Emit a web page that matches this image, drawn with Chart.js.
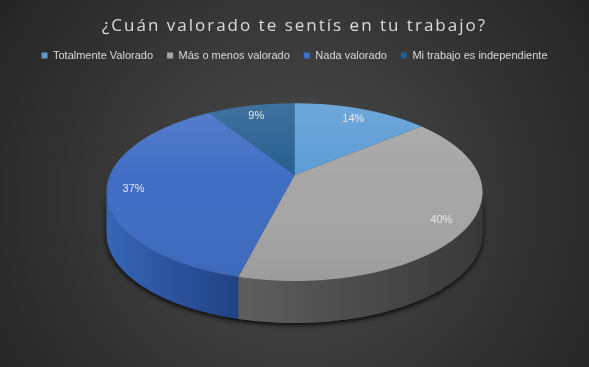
<!DOCTYPE html>
<html>
<head>
<meta charset="utf-8">
<script src="https://cdn.jsdelivr.net/npm/chart.js@4.4.1/dist/chart.umd.min.js"></script>
<style>
html, body { margin: 0; padding: 0; background: #333; }
#wrap { width: 589px; height: 367px; }
</style>
</head>
<body>
<div id="wrap"><canvas id="chart"></canvas></div>
<script>
const chartTitle = '¿Cuán valorado te sentís en tu trabajo?'
const categories = ['Totalmente Valorado', 'Más o menos valorado', 'Nada valorado', 'Mi trabajo es independiente']
const values = [14, 40, 37, 9]
const topColors = ['#5b9bd5', '#a5a5a5', '#3f6dc4', '#255e91']
const sideColors = [['#3d78b3', '#2a5a8c'], ['#5e5e5e', '#383838'], ['#3765b8', '#1f4283'], ['#1f4f7d', '#163b60']]

// look of the 3d disc
const pieRadius = 188
const tilt = 0.473
const depth = 42
const lean = 0.19   // perspective: how far the centre sits behind the middle of the ellipse
const gamma = 1 / Math.sqrt(1 - lean * lean)

function pieGeometry(chart){
    const arcs = chart.getDatasetMeta(0).data
    const a = chart.chartArea
    const rx = pieRadius
    const ry = rx * tilt
    return {
        arcs: arcs,
        R: arcs[0].outerRadius,
        cx: arcs[0].x,
        cy: arcs[0].y,
        rx: rx,
        ry: ry,
        ex: (a.left + a.right) / 2,
        ey: a.bottom - depth - ry
    }
}

// unit disc (u, v) -> unit ellipse (X, Y), seen in perspective
function project(u, v){
    return [u / (gamma * (1 - lean * v)), (v - lean) / (1 - lean * v)]
}
function unprojectY(Y){
    return (Y + lean) / (1 + lean * Y)
}
function screenAngle(a){
    const p = project(Math.cos(a), Math.sin(a))
    let phi = Math.atan2(p[1], p[0])
    while (phi < a - Math.PI) phi += Math.PI * 2
    while (phi > a + Math.PI) phi -= Math.PI * 2
    return phi
}

const background = {
    id: 'background',
    beforeDraw(chart){
        const ctx = chart.ctx
        const w = chart.width, h = chart.height
        let grad = ctx.createRadialGradient(w / 2, h * 0.54, 10, w / 2, h * 0.54, w * 0.6)
        grad.addColorStop(0, '#4c4c4c')
        grad.addColorStop(1, '#242424')
        ctx.save()
        ctx.fillStyle = grad
        ctx.fillRect(0, 0, w, h)
        // title, spaced out like the original
        ctx.fillStyle = '#dcdcdc'
        ctx.font = '17px "Open Sans"'
        ctx.letterSpacing = '2px'
        ctx.textAlign = 'center'
        ctx.textBaseline = 'alphabetic'
        ctx.fillText(chartTitle, w / 2, 31)
        ctx.restore()
    }
}

const pie3d = {
    id: 'pie3d',
    beforeDatasetsDraw(chart){
        const ctx = chart.ctx
        const g = pieGeometry(chart)

        // rim, with a shadow under it
        ctx.save()
        ctx.shadowColor = 'rgba(0,0,0,0.9)'
        ctx.shadowBlur = 5
        ctx.shadowOffsetY = 2
        ctx.beginPath()
        ctx.ellipse(g.ex, g.ey, g.rx, g.ry, 0, 0, Math.PI)
        ctx.ellipse(g.ex, g.ey + depth, g.rx, g.ry, 0, Math.PI, 0, true)
        ctx.closePath()
        ctx.fillStyle = '#333'
        ctx.fill()
        ctx.restore()

        ctx.save()
        g.arcs.forEach((arc, i) => {
            const s = Math.max(screenAngle(arc.startAngle), 0)
            const e = Math.min(screenAngle(arc.endAngle), Math.PI)
            if (e <= s) return
            let grad = ctx.createLinearGradient(g.ex + g.rx * Math.cos(e), 0, g.ex + g.rx * Math.cos(s), 0)
            grad.addColorStop(0, sideColors[i][0])
            grad.addColorStop(1, sideColors[i][1])
            ctx.beginPath()
            ctx.ellipse(g.ex, g.ey, g.rx, g.ry, 0, s, e)
            ctx.ellipse(g.ex, g.ey + depth, g.rx, g.ry, 0, e, s, true)
            ctx.closePath()
            ctx.fillStyle = grad
            ctx.fill()
        })
        ctx.restore()

        // top face: the chart.js arcs drawn strip by strip, each strip squashed for its depth
        const top = Math.floor(g.ey - g.ry), bottom = Math.ceil(g.ey + g.ry)
        for (let y0 = top; y0 < bottom; y0++){
            const y1 = y0 + 1
            const Y0 = (y0 - g.ey) / g.ry, Y1 = (y1 - g.ey) / g.ry
            const v0 = unprojectY(Math.max(Y0, -1)), v1 = unprojectY(Math.min(Y1, 1))
            if (v1 <= v0) continue
            const k = 1 / (gamma * (1 - lean * (v0 + v1) / 2))
            const sy = (Math.min(Y1, 1) - Math.max(Y0, -1)) * g.ry / ((v1 - v0) * g.R)
            ctx.save()
            ctx.beginPath()
            ctx.rect(0, y0, chart.width, 1)
            ctx.clip()
            ctx.translate(g.ex, g.ey + Math.max(Y0, -1) * g.ry)
            ctx.scale(g.rx * k / g.R, sy)
            ctx.translate(-g.cx, -(g.cy + v0 * g.R))
            g.arcs.forEach(arc => arc.draw(ctx))
            ctx.restore()
        }

        // light from above
        let grad = ctx.createLinearGradient(0, g.ey - g.ry, 0, g.ey + g.ry)
        grad.addColorStop(0, 'rgba(255,255,255,0.12)')
        grad.addColorStop(0.45, 'rgba(255,255,255,0)')
        grad.addColorStop(1, 'rgba(0,0,0,0.06)')
        ctx.save()
        ctx.beginPath()
        ctx.ellipse(g.ex, g.ey, g.rx, g.ry, 0, 0, Math.PI * 2)
        ctx.fillStyle = grad
        ctx.fill()
        ctx.restore()

        // percentage labels
        const total = values.reduce((a, b) => a + b, 0)
        ctx.save()
        ctx.fillStyle = '#e8e8e8'
        ctx.font = '11px "Liberation Sans"'
        ctx.textAlign = 'center'
        ctx.textBaseline = 'middle'
        g.arcs.forEach((arc, i) => {
            const mid = (arc.startAngle + arc.endAngle) / 2
            const f = 0.86
            const p = project(Math.cos(mid) * f, Math.sin(mid) * f)
            ctx.fillText(Math.round(values[i] / total * 100) + '%', g.ex + p[0] * g.rx, g.ey + p[1] * g.ry + 2)
        })
        ctx.restore()

        // the flat pie is not drawn
        return false
    }
}

new Chart(document.getElementById('chart'), {
    type: 'pie',
    data: {
        labels: categories,
        datasets: [{
            data: values,
            backgroundColor: topColors,
            borderWidth: 0
        }]
    },
    options: {
        responsive: true,
        maintainAspectRatio: false,
        animation: false,
        layout: {
            padding: {top: 36, bottom: 44}
        },
        plugins: {
            title: {display: false},
            legend: {
                position: 'top',
                labels: {
                    color: '#d9d9d9',
                    boxWidth: 6,
                    boxHeight: 6,
                    padding: 14,
                    font: {family: '"Liberation Sans"', size: 11}
                }
            },
            tooltip: {enabled: false}
        }
    },
    plugins: [background, pie3d]
})
</script>
</body>
</html>
